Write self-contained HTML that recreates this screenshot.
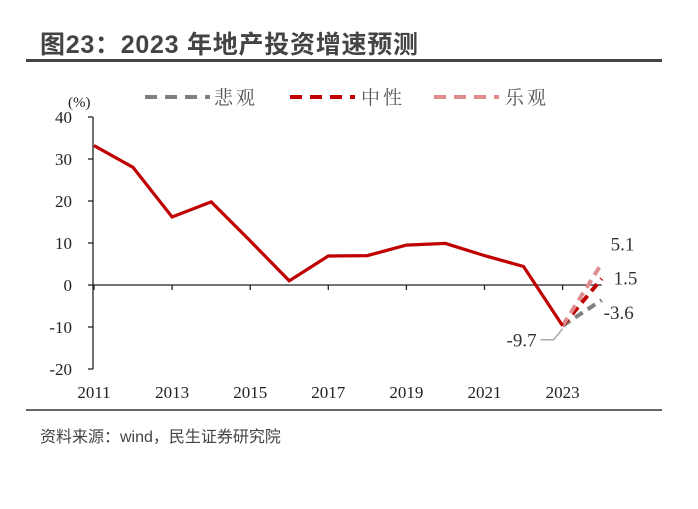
<!DOCTYPE html>
<html><head><meta charset="utf-8"><style>
body{margin:0;background:#fff;width:698px;height:504px;overflow:hidden;font-family:"Liberation Serif","Noto Serif CJK SC",serif}
</style></head><body>
<svg width="698" height="504">
<text x="40" y="53" font-family="Liberation Sans,Noto Sans CJK SC,sans-serif" font-weight="bold" font-size="25" fill="#444" textLength="378">图23：2023 年地产投资增速预测</text>
<rect x="26" y="59" width="636" height="3" fill="#444"/>
<g id="legend" font-family="Liberation Serif,Noto Serif CJK SC,serif" font-size="19" fill="#555" letter-spacing="3">
<line x1="145" y1="97" x2="210" y2="97" stroke="#808080" stroke-width="4" stroke-dasharray="12,8"/>
<text x="214" y="104">悲观</text>
<line x1="290" y1="97" x2="355" y2="97" stroke="#c00000" stroke-width="4" stroke-dasharray="12,8"/>
<text x="361" y="104">中性</text>
<line x1="434" y1="97" x2="499" y2="97" stroke="#e08b8f" stroke-width="4" stroke-dasharray="12,8"/>
<text x="505" y="104">乐观</text>
</g>
<g id="plot"></g>
<rect x="26" y="409" width="636" height="2" fill="#666"/>
<text x="40" y="442" font-family="Liberation Sans,Noto Sans CJK SC,sans-serif" font-size="16" fill="#444">资料来源：wind，民生证券研究院</text>
</svg>
<script>
const values=[33.2,28.0,16.2,19.8,10.5,1.0,6.9,7.0,9.5,9.9,7.0,4.4,-9.7];
const scenarioNames=['pessimistic','neutral','optimistic'];
const scenarioValues=[-3.6,1.5,5.1];
const yTicks=[40,30,20,10,0,-10,-20];
const xLabels=['2011','2013','2015','2017','2019','2021','2023'];
const NS='http://www.w3.org/2000/svg';
const g=document.getElementById('plot');
const X=i=>94+i*39.05;
const Y=v=>285-v*4.2;
function mk(t,a){const e=document.createElementNS(NS,t);for(const k in a)e.setAttribute(k,a[k]);g.appendChild(e);return e;}
let e=mk('line',{x1:93,y1:Y(40),x2:93,y2:Y(-20),stroke:'#222','stroke-width':1.3});

yTicks.forEach(v=>{const l=mk('line',{x1:88,y1:Y(v),x2:93,y2:Y(v),stroke:'#222','stroke-width':1.3});

const t=mk('text',{x:72,y:Y(v)+6,'text-anchor':'end','font-size':17,fill:'#222'});t.textContent=v;
});
const u=mk('text',{x:68,y:107,'font-size':15,fill:'#222'});u.textContent='(%)';

e=mk('line',{x1:93,y1:Y(0),x2:X(13),y2:Y(0),stroke:'#222','stroke-width':1.3});

xLabels.forEach((s,k)=>{const i=k*2;const l=mk('line',{x1:X(i),y1:Y(0),x2:X(i),y2:Y(0)+5,stroke:'#222','stroke-width':1.3});

const t=mk('text',{x:X(i),y:398,'text-anchor':'middle','font-size':17,fill:'#222'});t.textContent=s;
});
const n=values.length-1;
const colors=['#808080','#c00000','#e08b8f'];
scenarioValues.forEach((v,k)=>{const l=mk('line',{x1:X(n),y1:Y(values[n]),x2:X(n+1),y2:Y(v),stroke:colors[k],'stroke-width':4,'stroke-dasharray':'9,6'});
});
const p=mk('polyline',{points:values.map((v,i)=>X(i)+','+Y(v)).join(' '),fill:'none',stroke:'#c00000','stroke-width':3.2});

const offs=[[X(n+1)+2,Y(scenarioValues[0])+19],[X(n+1)+12,Y(scenarioValues[1])+6],[X(n+1)+9,Y(scenarioValues[2])-13]];
scenarioValues.forEach((v,k)=>{const t=mk('text',{x:offs[k][0],y:offs[k][1],'font-size':19,fill:'#333'});t.textContent=v;
});
const ld=mk('polyline',{points:(X(n)-22)+','+(Y(values[n])+14)+' '+(X(n)-9)+','+(Y(values[n])+14)+' '+X(n)+','+(Y(values[n])+3),fill:'none',stroke:'#aaa','stroke-width':1.5});

const lt=mk('text',{x:X(n)-26,y:Y(values[n])+21,'text-anchor':'end','font-size':19,fill:'#333'});lt.textContent=values[n];

</script>
</body></html>
